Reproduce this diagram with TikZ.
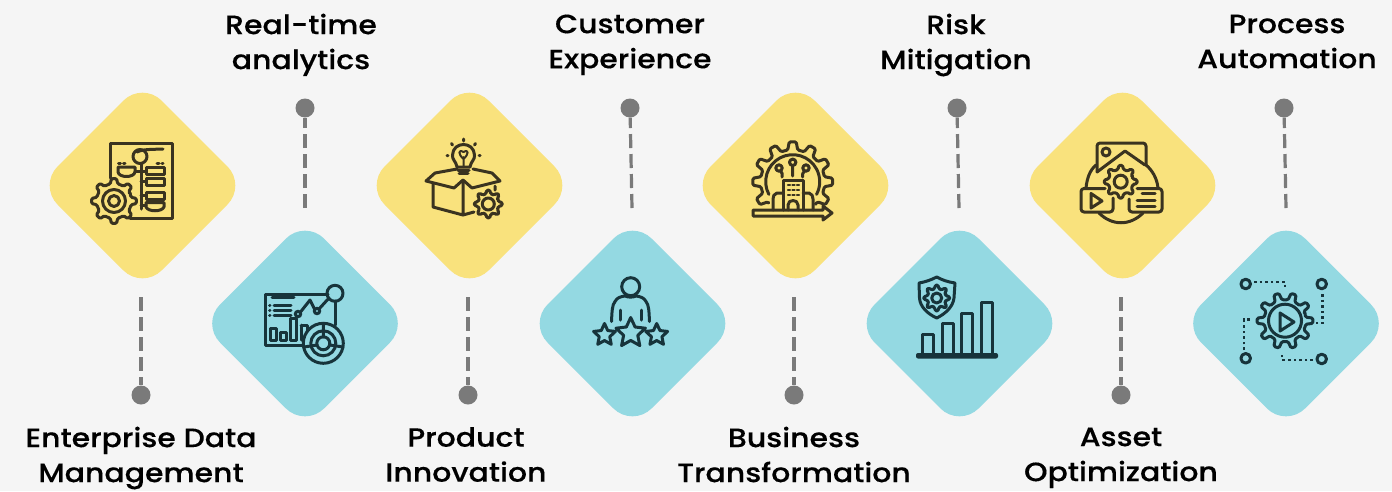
\documentclass[tikz,border=0pt]{standalone}
\usepackage{fontspec}
\setmainfont[FakeStretch=1.13,FakeBold=0.25]{Poppins Medium}
\definecolor{bgc}{HTML}{F5F5F5}
\definecolor{yel}{HTML}{F9E27D}
\definecolor{tea}{HTML}{94D9E2}
\definecolor{ydark}{HTML}{3A3320}
\definecolor{tdark}{HTML}{17343B}
\definecolor{gry}{HTML}{7A7A7A}
\tikzset{
 diashape/.style={rounded corners=27pt,draw=none},
 pin/.style={circle,fill=gry,draw=none,minimum size=19pt,inner sep=0pt},
 dashline/.style={draw=gry,line width=3.2pt,dash pattern=on 14pt off 6pt},
 lab/.style={align=center,font=\fontsize{26.5}{35}\selectfont,text=black,inner sep=0pt},
 ic/.style={line width=3pt,line join=round,line cap=round},
 yic/.style={ic,draw=ydark},
 tic/.style={ic,draw=tdark},
 dots/.style={draw=tdark,line width=2.8pt,dash pattern=on 2.6pt off 3pt},
}
\newcommand{\twolines}[2]{\vphantom{Ag}#1\\\vphantom{Ag}#2}
\newcommand{\dia}[3]{\path[diashape,fill=#1] (#2-104,#3) -- (#2,#3-104) -- (#2+104,#3) -- (#2,#3+104) -- cycle;}
\newcommand{\gearshape}[6]{%
 \begin{scope}[shift={(#2,#3)}]
 \pgfmathsetmacro{\st}{360/#6}
 \pgfmathtruncatemacro{\nn}{#6-1}
 \draw[#1,rounded corners=1.3pt] ({-0.5*\st}:#5) foreach \k in {0,...,\nn} {
   -- ({(\k-0.27)*\st}:#5) -- ({(\k-0.15)*\st}:#4) -- ({(\k+0.15)*\st}:#4) -- ({(\k+0.27)*\st}:#5) -- ({(\k+0.5)*\st}:#5)
 } -- cycle;
 \end{scope}}
\newcommand{\starshape}[4]{%
 \begin{scope}[shift={(#2,#3)}]
 \draw[#1] (-90:#4) -- (-54:0.48*#4) -- (-18:#4) -- (18:0.48*#4) -- (54:#4) -- (90:0.48*#4) -- (126:#4) -- (162:0.48*#4) -- (198:#4) -- (234:0.48*#4) -- cycle;
 \end{scope}}
\begin{document}
\begin{tikzpicture}[x=1pt,y=-1pt]
\useasboundingbox (0,0) rectangle (1392,491);
\fill[bgc] (0,0) rectangle (1392,491);
\dia{yel}{142.5}{185.5}
\dia{tea}{305}{323.5}
\dia{yel}{469.5}{185.5}
\dia{tea}{632.5}{323.5}
\dia{yel}{795.5}{185.5}
\dia{tea}{959.5}{323.5}
\dia{yel}{1122.5}{185.5}
\dia{tea}{1286}{323.5}
\node[pin] (p1) at (141,395) {};
\node[pin] (p2) at (305,108) {};
\node[pin] (p3) at (468,395) {};
\node[pin] (p4) at (630,108) {};
\node[pin] (p5) at (794,395) {};
\node[pin] (p6) at (957,108) {};
\node[pin] (p7) at (1121,395) {};
\node[pin] (p8) at (1284,108) {};
\coordinate (c1) at (141,297);
\coordinate (c2) at (305,208);
\coordinate (c3) at (468,297);
\coordinate (c4) at (632,208);
\coordinate (c5) at (794,297);
\coordinate (c6) at (959,208);
\coordinate (c7) at (1121,297);
\coordinate (c8) at (1286,208);
\foreach \i in {1,2,...,8} \draw[dashline] (c\i) -- (p\i);
\node[lab] (l1) at (141,458) {\twolines{Enterprise Data}{Management}};
\node[lab] (l2) at (301,45) {\twolines{Real-time}{analytics}};
\node[lab] (l3) at (466,458) {\twolines{Product}{Innovation}};
\node[lab] (l4) at (630,45) {\twolines{Customer}{Experience}};
\node[lab] (l5) at (794,458) {\twolines{Business}{Transformation}};
\node[lab] (l6) at (956,45) {\twolines{Risk}{Mitigation}};
\node[lab] (l7) at (1121,458) {\twolines{Asset}{Optimization}};
\node[lab] (l8) at (1287,45) {\twolines{Process}{Automation}};
% icon 1
\draw[yic] (110,178) -- (110,143) -- (172,143) -- (172,218) -- (130,218);
\draw[yic] (140,156.5) circle (7);
\draw[yic] (137,152) .. controls (143,149) and (152,149.5) .. (163,149);
\draw[yic] (141,164) -- (141,209);
\draw[yic] (118,167) -- (135,167) -- (135,172) .. controls (134,178) and (119,178) .. (118,172) -- cycle;
\draw[yic] (146,167.5) rectangle (164,174.5);
\draw[yic] (146,178) rectangle (164,185);
\draw[yic] (146,192) rectangle (164,199);
\draw[yic] (146,202.5) -- (164,202.5) -- (164,207) .. controls (162,212) and (148,212) .. (146,207) -- cycle;
\draw[yic] (135,171) -- (146,171) (141,181) -- (146,181) (141,195.5) -- (146,195.5) (141,205) -- (146,205);
\draw[yic,dash pattern=on 2pt off 3pt] (118.5,163) -- (125,163) (157,163) -- (163,163);
\gearshape{yic}{114}{201}{22.5}{17.5}{8}
\draw[yic] (114,201) circle (11.5) (114,201) circle (5.5);
% icon 2
\draw[tic] (328,294) -- (265,294) -- (265,345) -- (303,345);
\draw[tic] (335,301) -- (335,325);
\draw[tic] (335,293.3) circle (8);
\draw[tic] (272,297) -- (294,297) (274,305) -- (291,305) (274,310) -- (291,310) (274,315) -- (291,315);
\draw[tic] (269.5,305) -- (270,305) (269.5,310) -- (270,310) (269.5,315) -- (270,315);
\draw[tic] (300.5,312) -- (310,300) -- (315,310) (319,309) -- (329,298);
\draw[tic] (298,314) circle (2.7) (317,311) circle (2.7);
\draw[tic] (270,328) rectangle (276,340) (280,332) rectangle (286,340) (290,318) rectangle (296,340);
\draw[tic] (301,325) -- (301,340) (301,325) -- (307,325) -- (307,331);
\draw[tic] (323.3,343.3) circle (20) (323.3,343.3) circle (12.5) (323.3,343.3) circle (6.5);
\draw[tic] (323.3,323.3) -- (323.3,337) (304,347) -- (317,345) (343,347) -- (330,345);
% icon 3
\draw[yic] (457,167) .. controls (456,161) and (452,160) .. (452.5,155) .. controls (453,141) and (474,141) .. (474.5,155) .. controls (475,160) and (471,161) .. (470,167) -- cycle;
\draw[yic] (458,170) -- (469,170) (459,173.5) -- (468,173.5);
\draw[yic] (463.5,141) -- (463.5,139) (452.5,145) -- (451.5,143.5) (474.5,145) -- (475.5,143.5) (448,155.5) -- (447,155.5) (479,155.5) -- (480,155.5);
\draw[yic,line width=2pt] (463.5,167) -- (463.5,157) (463.5,159) .. controls (458,154) and (458,149) .. (463.5,152) .. controls (469,149) and (469,154) .. (463.5,159);
\draw[yic] (457,169) -- (435,173) -- (426,181) -- (454,188) -- (463,180) -- (472,188) -- (500,181) -- (492,173) -- (473,169);
\draw[yic] (433,184) -- (433,207) -- (463,215) -- (474,212) (463,180) -- (463,215) (495,186) -- (495,190);
\gearshape{yic}{488.3}{204}{14}{10.5}{8}
\draw[yic] (488.3,204) circle (6);
% icon 4
\draw[tic] (630.7,286.7) circle (9);
\draw[tic] (611.5,321.5) .. controls (612,312) and (612,305) .. (615,301.5) .. controls (617,297.5) and (621,296.5) .. (625,296) .. controls (628,297.5) and (633,297.5) .. (636,296) .. controls (640,296.5) and (644,297.5) .. (646,301.5) .. controls (649,305) and (649,312) .. (649.5,321.5);
\draw[tic] (620,310) -- (620,320) (641,310) -- (641,320);
\starshape{tic}{630.7}{333}{15.5}
\starshape{tic}{604.5}{335}{11.5}
\starshape{tic}{656.7}{335}{11.5}
% icon 5
\begin{scope}[shift={(792.7,181.7)}]
\draw[yic,rounded corners=1.3pt] (140:32) foreach \a in {150,180,...,390} {
  -- ({\a-9}:32) -- ({\a-5}:40) -- ({\a+5}:40) -- ({\a+9}:32) -- ({\a+15}:32)
};
\draw[yic] (152:27) arc (152:388:27);
\end{scope}
\draw[yic] (783,210) -- (783,180) -- (803,180) -- (803,210);
\draw[yic] (783,193) -- (777,193) .. controls (774,194) and (773,196) .. (773,199) -- (773,210) (803,193) -- (809,193) .. controls (812,194) and (813,196) .. (813,199) -- (813,210);
\draw[yic] (788,210) -- (788,205) .. controls (788,199) and (798,199) .. (798,205) -- (798,210);
\draw[yic,line width=2.2pt,dash pattern=on 2pt off 2.5pt] (788,185) -- (799,185) (788,190) -- (799,190) (788,195) -- (799,195);
\draw[yic] (792.7,162.3) circle (3.2) (792.7,165.5) -- (792.7,176);
\draw[yic] (779,168) circle (3.2) (780.5,171) .. controls (783,172) and (782,175) .. (782,177);
\draw[yic] (806,168) circle (3.2) (804.5,171) .. controls (802,172) and (803,175) .. (802.5,177);
\draw[yic] (823,210) -- (753,210) -- (753,216) -- (823,216) -- (823,220) -- (832,213) -- (823,206) -- cycle;
% icon 6
\draw[tic] (936.7,277) .. controls (931,280) and (925,282) .. (919,283) -- (919.5,298) .. controls (920,307) and (928,314) .. (936.7,318) .. controls (945,314) and (953,307) .. (954,298) -- (955,283) .. controls (948,282) and (942,280) .. (936.7,277) -- cycle;
\gearshape{tic}{936.7}{298}{13}{9.5}{8}
\draw[tic] (936.7,298) circle (5);
\draw[tic] (922,353) -- (922,334) -- (933,334) -- (933,353);
\draw[tic] (942,353) -- (942,323) -- (953,323) -- (953,353);
\draw[tic] (961,353) -- (961,313) -- (972,313) -- (972,353);
\draw[tic] (981,353) -- (981,302.5) -- (992,302.5) -- (992,353);
\fill[tdark,rounded corners=2pt] (916,353) rectangle (998,358.5);
% icon 7
\draw[yic,rounded corners=3pt] (1097,172) -- (1097,143) -- (1146,143) -- (1146,165);
\draw[yic] (1097,172) -- (1125,151) -- (1145,165);
\draw[yic] (1106,152) circle (4);
\draw[yic] (1096,165) .. controls (1090,170) and (1087,178) .. (1086,188);
\draw[yic] (1146,165) .. controls (1152,170) and (1157,178) .. (1158,188);
\draw[yic] (1099,213) .. controls (1112,226) and (1130,226) .. (1143,213);
\gearshape{yic}{1120.7}{181.7}{16.5}{12.5}{8}
\draw[yic] (1120.7,181.7) circle (6.5);
\draw[yic,rounded corners=3pt] (1105,188.5) -- (1081,188.5) -- (1081,212) -- (1113,212) -- (1113,198);
\draw[yic,rounded corners=3pt] (1137,188.5) -- (1162,188.5) -- (1162,212) -- (1129,212) -- (1129,199);
\draw[yic] (1091,193.5) -- (1102,201) -- (1091,208) -- cycle;
\draw[yic] (1142,193.5) -- (1155,193.5) (1137,200) -- (1155,200) (1137,206) -- (1155,206);
% icon 8
\gearshape{tic}{1285}{320.7}{28}{21}{10}
\draw[tic] (1285,320.7) circle (16.5);
\draw[tic] (1280,313) -- (1294,322) -- (1280,331) -- cycle;
\draw[tic] (1245.7,284) circle (4.8) (1321.7,284) circle (4.8) (1245.7,358.3) circle (4.8) (1321.7,359) circle (4.8);
\draw[dots] (1254,282) -- (1285,282) -- (1285,289);
\draw[dots] (1322.7,294) -- (1322.7,323) -- (1315,323);
\draw[dots] (1244,350) -- (1244,319.5) -- (1252,319.5);
\draw[dots] (1313,360) -- (1282,360) -- (1282,354);
\end{tikzpicture}
\end{document}
